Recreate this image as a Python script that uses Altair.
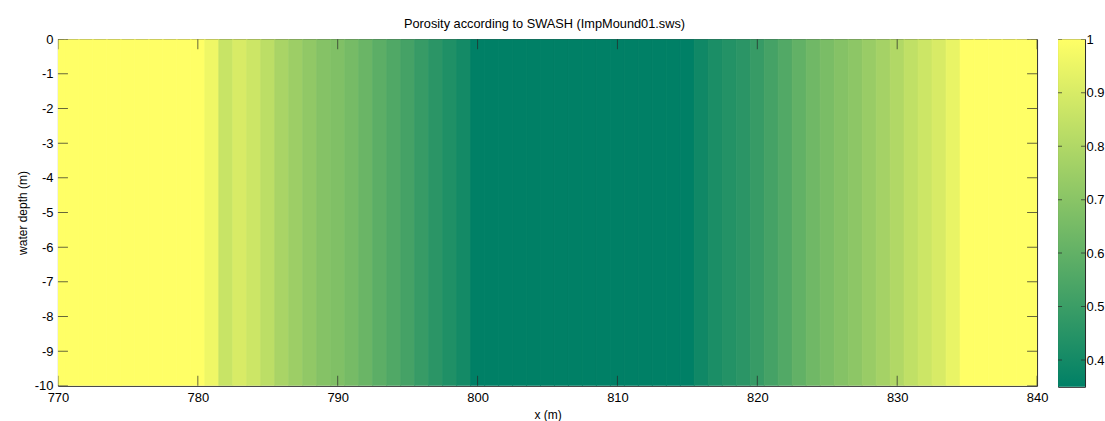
import altair as alt
import pandas as pd

# Cross-shore grid nodes (m) and the porosity assigned to each cell
x_nodes = list(range(770, 841))
porosity = [
    1.00, 1.00, 1.00, 1.00, 1.00, 1.00, 1.00, 1.00, 1.00, 1.00, 1.00,   # 770-780
    0.96, 0.86, 0.90, 0.87, 0.83, 0.78, 0.75, 0.72, 0.69, 0.675,        # 781-790
    0.65, 0.62, 0.585, 0.555, 0.525, 0.49, 0.46, 0.43, 0.40,            # 791-799
    0.35, 0.35, 0.35, 0.35, 0.35, 0.35, 0.35, 0.35,                     # 800-807
    0.35, 0.35, 0.35, 0.35, 0.35, 0.35, 0.35, 0.35,                     # 808-815
    0.39, 0.42, 0.44, 0.46, 0.49, 0.525, 0.56, 0.60, 0.635, 0.66,       # 816-825
    0.69, 0.71, 0.74, 0.77, 0.80, 0.84, 0.87, 0.90, 0.945,              # 826-834
    1.00, 1.00, 1.00, 1.00, 1.00, 1.00,                                 # 835-840
]
depth_bottom = -10
depth_top = 0

x_ticks = [770, 780, 790, 800, 810, 820, 830, 840]
y_ticks = [-10, -9, -8, -7, -6, -5, -4, -3, -2, -1, 0]
cbar_ticks = [0.4, 0.5, 0.6, 0.7, 0.8, 0.9, 1.0]
cbar_min, cbar_max = 0.35, 1.0

# MATLAB "summer" colormap end points
summer_low, summer_high = "#008066", "#ffff66"

FONT = "Liberation Sans"
INK = "#000000"
FRAME = "#262626"
W, H = 980, 347
CB_W = 27

cells = pd.DataFrame({"x": x_nodes, "porosity": porosity})
cells["x0"] = cells["x"] - 0.5
cells["x1"] = cells["x"] + 0.5
cells["y0"] = depth_bottom
cells["y1"] = depth_top

xscale = alt.Scale(domain=[x_nodes[0], x_nodes[-1]], nice=False, zero=False)
yscale = alt.Scale(domain=[depth_bottom, depth_top], nice=False, zero=False)
cscale = alt.Scale(domain=[cbar_min, cbar_max], range=[summer_low, summer_high],
                   interpolate="rgb")

x_axis = alt.Axis(values=x_ticks, title="x (m)", ticks=False, domain=False,
                  grid=False, labelPadding=6, titlePadding=5, labelFlush=False,
                  labelExpr="'' + datum.value")
y_axis = alt.Axis(values=y_ticks, title="water depth (m)", ticks=False,
                  domain=False, grid=False, labelPadding=5, titlePadding=5,
                  labelFlush=False, labelExpr="'' + datum.value")

# Each cell is stroked in its own colour so neighbouring cells meet without seams
field = alt.Chart(cells).mark_rect(clip=True, strokeWidth=0.8).encode(
    x=alt.X("x0:Q", scale=xscale, axis=x_axis),
    x2="x1:Q",
    y=alt.Y("y0:Q", scale=yscale, axis=y_axis),
    y2="y1:Q",
    color=alt.Color("porosity:Q", scale=cscale, legend=None),
    stroke=alt.Stroke("porosity:Q", scale=cscale, legend=None),
)

# Inward tick marks on all four sides of the axes box
xt_df = pd.DataFrame([{"x0": t, "y0": yv} for t in x_ticks for yv in (depth_bottom, depth_top)])
yt_df = pd.DataFrame([{"x0": xv, "y0": t} for t in y_ticks for xv in (x_nodes[0], x_nodes[-1])])

xt = alt.Chart(xt_df).mark_tick(orient="vertical", size=20, thickness=1, clip=True,
                                color=FRAME).encode(
    x=alt.X("x0:Q", scale=xscale, axis=x_axis),
    y=alt.Y("y0:Q", scale=yscale, axis=y_axis),
)
yt = alt.Chart(yt_df).mark_tick(orient="horizontal", size=20, thickness=1, clip=True,
                                color=FRAME).encode(
    x=alt.X("x0:Q", scale=xscale, axis=x_axis),
    y=alt.Y("y0:Q", scale=yscale, axis=y_axis),
)

main = alt.layer(field, xt, yt).properties(
    width=W, height=H,
    title=alt.TitleParams(text="Porosity according to SWASH (ImpMound01.sws)",
                          anchor="middle", frame="group", offset=2, dx=-3),
)

# Colorbar
cb_scale = alt.Scale(domain=[cbar_min, cbar_max], nice=False, zero=False)
cb_axis = alt.Axis(orient="right", values=cbar_ticks, title=None, ticks=False,
                   domain=False, grid=False, labelPadding=1, labelFlush=False,
                   labelExpr="'' + datum.value")
cbar_df = pd.DataFrame({"lo": [cbar_min], "hi": [cbar_max]})
gradient = alt.Gradient(
    gradient="linear",
    stops=[alt.GradientStop(color=summer_low, offset=0),
           alt.GradientStop(color=summer_high, offset=1)],
    x1=0, x2=0, y1=1, y2=0,
)
bar = alt.Chart(cbar_df).mark_rect(fill=gradient, strokeWidth=0).encode(
    x=alt.value(0), x2=alt.value(CB_W),
    y=alt.Y("lo:Q", scale=cb_scale, axis=cb_axis),
    y2="hi:Q",
)
cb_ticks_df = pd.DataFrame([{"side": s, "lo": t} for t in cbar_ticks for s in (0, 1)])
cb_ticks = alt.Chart(cb_ticks_df).mark_tick(orient="horizontal", size=8, thickness=1,
                                            clip=True, color=FRAME).encode(
    x=alt.X("side:Q", scale=alt.Scale(domain=[0, 1], nice=False),
            axis=alt.Axis(labels=False, ticks=False, domain=False, grid=False, title=None)),
    y=alt.Y("lo:Q", scale=cb_scale, axis=cb_axis),
)
colorbar = alt.layer(bar, cb_ticks).properties(width=CB_W, height=H + 1)

chart = alt.hconcat(main, colorbar, spacing=21, bounds="flush").properties(
    padding={"left": 15, "top": 17, "right": 0, "bottom": 0},
    background="white",
).configure_view(
    stroke=FRAME, strokeWidth=1,
).configure_axis(
    labelFont=FONT, titleFont=FONT, labelFontSize=13, titleFontSize=12,
    labelColor=INK, titleColor=INK, titleFontWeight="normal",
).configure_title(
    font=FONT, fontSize=12.8, fontWeight="normal", color=INK,
)

chart.save("out.html", embed_options={"renderer": "svg", "actions": False})
